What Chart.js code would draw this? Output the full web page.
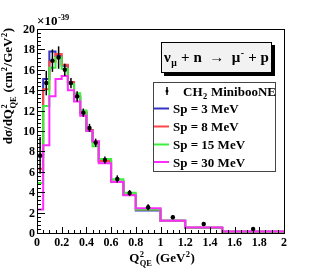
<!DOCTYPE html>
<html><head><meta charset="utf-8">
<script src="https://cdn.jsdelivr.net/npm/chart.js@4.4.1/dist/chart.umd.min.js"></script>
<style>html,body{margin:0;padding:0;background:#fff;}#wrap{width:315px;height:276px;position:relative}</style>
</head><body><div id="wrap"><canvas id="c" width="315" height="276"></canvas></div>
<script>
// ---- data (units of 1e-39 cm^2/GeV^2) ----
const binEdges = [0,0.05,0.1,0.15,0.2,0.25,0.3,0.35,0.4,0.45,0.5,0.6,0.7,0.8,1.0,1.2,1.5,2.0];
const dataX   = [0.025,0.075,0.125,0.175,0.225,0.275,0.325,0.375,0.425,0.475,0.55,0.65,0.75,0.9,1.1,1.35,1.75];
const dataY   = [7.6,14.7,16.9,17.2,16.0,14.7,13.4,11.8,10.3,8.85,7.16,5.3,3.92,2.52,1.54,0.88,0.39];
const dataErr = [1.8,1.2,1.1,1.1,0.6,0.5,0.5,0.4,0.4,0.4,0.35,0.35,0.3,0.3,0.2,0.15,0.15];
const sp3  = [7.5,15.1,17.8,17.35,16.4,14.7,13.3,11.8,10.1,8.95,7.0,5.03,3.75,2.2,1.2,0.52,0.12];
const sp8  = [6.3,14.1,16.8,17.55,16.5,14.8,13.4,11.9,10.1,8.95,7.05,5.03,3.73,2.3,1.2,0.52,0.12];
const sp15 = [4.9,12.45,16.2,17.2,16.1,14.6,13.7,12.0,10.0,8.5,7.25,5.26,3.95,2.3,1.2,0.52,0.12];
const sp30 = [2.3,8.6,13.4,15.1,15.4,14.0,12.9,11.5,10.0,9.0,6.85,5.0,3.7,2.42,1.2,0.55,0.14];
const xTickLabels = ['0','0.2','0.4','0.6','0.8','1','1.2','1.4','1.6','1.8','2'];
const yTickLabels = ['0','2','4','6','8','10','12','14','16','18','20'];
const seriesLabels = ['Sp = 3 MeV','Sp = 8 MeV','Sp = 15 MeV','Sp = 30 MeV'];
const dataLabel = 'MinibooNE';
const seriesColors = ['#3434c4','#ff4646','#3cef3c','#ff2cff'];

const FONT = '"Liberation Serif","Times New Roman",serif';
function fnt(sz){return 'bold '+sz+'px '+FONT;}
function runWidth(ctx,r,sz){
  if(r.t!==undefined){ctx.font=fnt(sz);return ctx.measureText(r.t).width;}
  ctx.font=fnt(sz*0.65);
  const a=r.sup?ctx.measureText(r.sup).width:0, b=r.sub?ctx.measureText(r.sub).width:0;
  return Math.max(a,b)+1;
}
function runsWidth(ctx,runs,sz){let w=0;for(const r of runs)w+=runWidth(ctx,r,sz);return w;}
function drawRuns(ctx,runs,x,y,sz,align){
  const w=runsWidth(ctx,runs,sz);
  let cx=align==='right'?x-w:align==='center'?x-w/2:x;
  ctx.textAlign='left';ctx.textBaseline='alphabetic';
  for(const r of runs){
    const rw=runWidth(ctx,r,sz);
    if(r.t!==undefined){ctx.font=fnt(sz);ctx.fillText(r.t,cx,y);}
    else{ctx.font=fnt(sz*0.65);
      if(r.sup)ctx.fillText(r.sup,cx+0.5,y-sz*0.42);
      if(r.sub)ctx.fillText(r.sub,cx+0.5,y+sz*0.28);}
    cx+=rw;
  }
}

function histPoints(vals){
  const pts=[{x:binEdges[0],y:vals[0]}];
  vals.forEach((v,i)=>pts.push({x:binEdges[i+1],y:v}));
  return pts;
}
const allSeries=[sp3,sp8,sp15,sp30];
const datasets=allSeries.map((s,i)=>({
  type:'line',label:seriesLabels[i],data:histPoints(s),stepped:'after',
  borderColor:seriesColors[i],borderWidth:2,pointRadius:0,fill:false,order:10-i
}));
datasets.push({type:'scatter',label:dataLabel,data:dataX.map((x,i)=>({x:x,y:dataY[i]})),
  pointRadius:2.2,pointBackgroundColor:'#000',pointBorderColor:'#000',borderWidth:0,order:0});

const rootPlugin={
  id:'root',
  afterDatasetsDraw(chart){
    const ctx=chart.ctx,xs=chart.scales.x,ys=chart.scales.y;
    ctx.save();ctx.strokeStyle='#000';ctx.lineWidth=1.5;
    dataX.forEach((x,i)=>{
      const px=xs.getPixelForValue(x);
      ctx.beginPath();ctx.moveTo(px,ys.getPixelForValue(dataY[i]-dataErr[i]));
      ctx.lineTo(px,ys.getPixelForValue(dataY[i]+dataErr[i]));ctx.stroke();
    });
    ctx.restore();
  },
  afterDraw(chart){
    const ctx=chart.ctx,xs=chart.scales.x,ys=chart.scales.y,a=chart.chartArea;
    ctx.save();
    ctx.strokeStyle='#000';ctx.lineWidth=1;
    ctx.strokeRect(Math.round(a.left)+0.5,Math.round(a.top)+0.5,Math.round(a.right-a.left),Math.round(a.bottom-a.top));
    ctx.fillStyle='#000';
    for(let v=0;v<=20.001;v+=0.4){
      const py=Math.round(ys.getPixelForValue(v))+0.5;
      const major=Math.abs(v/2-Math.round(v/2))<1e-6;
      ctx.beginPath();ctx.moveTo(a.left,py);ctx.lineTo(a.left+(major?8:4),py);ctx.stroke();
    }
    yTickLabels.forEach(l=>{
      const py=ys.getPixelForValue(parseFloat(l));
      ctx.font=fnt(12);ctx.textAlign='right';ctx.textBaseline='alphabetic';
      ctx.fillText(l,a.left-2,py+4);
    });
    for(let v=0;v<=2.0001;v+=0.05){
      const px=Math.round(xs.getPixelForValue(v))+0.5;
      const major=Math.abs(v/0.2-Math.round(v/0.2))<1e-6;
      ctx.beginPath();ctx.moveTo(px,a.bottom);ctx.lineTo(px,a.bottom-(major?6:3));ctx.stroke();
    }
    xTickLabels.forEach(l=>{
      const px=xs.getPixelForValue(parseFloat(l));
      ctx.font=fnt(12);ctx.textAlign='center';ctx.textBaseline='alphabetic';
      ctx.fillText(l,px,a.bottom+13);
    });
    drawRuns(ctx,[{t:'×10'},{sup:'-39'}],a.left,a.top-4,13,'left');
    drawRuns(ctx,[{t:'Q'},{sup:'2',sub:'QE'},{t:' (GeV'},{sup:'2'},{t:')'}],162,262,13,'center');
    ctx.save();ctx.translate(12,28);ctx.rotate(-Math.PI/2);
    drawRuns(ctx,[{t:'dσ/dQ'},{sup:'2',sub:'QE'},{t:' (cm'},{sup:'2'},{t:'/GeV'},{sup:'2'},{t:')'}],0,0,13,'right');
    ctx.restore();
    ctx.fillStyle='#000';ctx.fillRect(164,45,111,31);
    ctx.fillStyle='#f2f2f2';ctx.fillRect(161,42,111,31);
    ctx.strokeStyle='#000';ctx.lineWidth=1;ctx.strokeRect(161.5,42.5,110,30);
    ctx.fillStyle='#000';
    drawRuns(ctx,[{t:'ν'},{sub:'μ'},{t:' + n  →  μ'},{sup:'-'},{t:' + p'}],216.5,62,15,'center');
    ctx.fillStyle='#fff';ctx.fillRect(153,82,123,90);
    ctx.strokeStyle='#444';ctx.strokeRect(153.5,82.5,122,89);
    const rowY=[91,108.5,126.5,144.5,162];
    ctx.fillStyle='#000';ctx.strokeStyle='#000';ctx.lineWidth=1.5;
    ctx.beginPath();ctx.moveTo(167,rowY[0]-4);ctx.lineTo(167,rowY[0]+4);ctx.stroke();
    ctx.beginPath();ctx.arc(167,rowY[0],1.5,0,Math.PI*2);ctx.fill();
    drawRuns(ctx,[{t:'CH'},{sub:'2'},{t:' '+dataLabel}],183,rowY[0]+4.5,13,'left');
    seriesLabels.forEach((l,i)=>{
      const y=rowY[i+1];
      ctx.strokeStyle=seriesColors[i];ctx.lineWidth=2;
      ctx.beginPath();ctx.moveTo(154,y);ctx.lineTo(169,y);ctx.stroke();
      ctx.fillStyle='#000';
      drawRuns(ctx,[{t:l}],173,y+4.5,13,'left');
    });
    ctx.restore();
  }
};

new Chart(document.getElementById('c'),{
  type:'line',
  data:{datasets:datasets},
  options:{
    responsive:false,animation:false,devicePixelRatio:1,
    layout:{padding:{left:37,right:31,top:29,bottom:43}},
    scales:{
      x:{type:'linear',min:0,max:2,display:false},
      y:{type:'linear',min:0,max:20,display:false}
    },
    plugins:{legend:{display:false},tooltip:{enabled:false}}
  },
  plugins:[rootPlugin]
});
</script></body></html>
